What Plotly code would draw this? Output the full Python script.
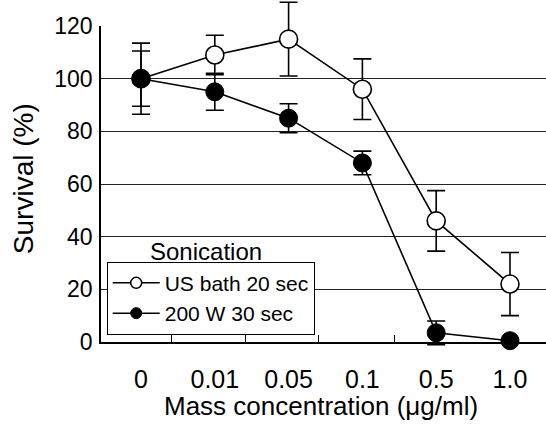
import plotly.graph_objects as go

categories = ["0", "0.01", "0.05", "0.1", "0.5", "1.0"]
x_pos = [0, 1, 2, 3, 4, 5]

us_bath = [100, 109, 115, 96, 46, 22]
us_bath_err = [13.5, 7.5, 14, 11.5, 11.5, 12]

w200 = [100, 95, 85, 68, 3.5, 0.5]
w200_err = [10.5, 7, 5.5, 4.5, 4.5, 0]

y_ticks = [0, 20, 40, 60, 80, 100, 120]

FONT = "Liberation Sans, Arial, sans-serif"
BLACK = "black"

# ---- geometry (pixels) ----
W, H = 546, 436
L = 101
Y_TOP_PX = 26      # pixel row of the 120 line
Y_ZERO_PX = 342    # pixel row of the 0 line
Y_MIN, Y_MAX = 0, 120
px_per_unit = (Y_ZERO_PX - Y_TOP_PX) / (Y_MAX - Y_MIN)
dom_lo = (H - Y_ZERO_PX) / H
dom_hi = (H - Y_TOP_PX) / H
# full-height data axis sharing the same scale, so error bars are not clipped
y2_range = [Y_MIN - (H - Y_ZERO_PX) / px_per_unit, Y_MAX + Y_TOP_PX / px_per_unit]

def py(pix):
    return (H - pix) / H

fig = go.Figure()
# legend entries (smaller markers as in the original key); they live on the framed axes
fig.add_trace(go.Scatter(
    x=[None], y=[None], name="US bath 20 sec", mode="lines+markers", xaxis="x", yaxis="y",
    line=dict(color=BLACK, width=1.5),
    marker=dict(symbol="circle", size=11, color="white", line=dict(color=BLACK, width=1.5)),
))
fig.add_trace(go.Scatter(
    x=[None], y=[None], name="200 W 30 sec", mode="lines+markers", xaxis="x", yaxis="y",
    line=dict(color=BLACK, width=1.5),
    marker=dict(symbol="circle", size=11, color=BLACK, line=dict(color=BLACK, width=1)),
))
# data traces
fig.add_trace(go.Scatter(
    x=x_pos, y=us_bath, name="US bath 20 sec", mode="lines+markers", showlegend=False,
    xaxis="x", yaxis="y2", cliponaxis=False,
    line=dict(color=BLACK, width=1.6),
    marker=dict(symbol="circle", size=18, color="white", line=dict(color=BLACK, width=1.6)),
    error_y=dict(type="data", array=us_bath_err, visible=True, color=BLACK, thickness=1.6, width=9),
))
fig.add_trace(go.Scatter(
    x=x_pos, y=w200, name="200 W 30 sec", mode="lines+markers", showlegend=False,
    xaxis="x", yaxis="y2", cliponaxis=False,
    line=dict(color=BLACK, width=1.6),
    marker=dict(symbol="circle", size=18, color=BLACK, line=dict(color=BLACK, width=1)),
    error_y=dict(type="data", array=w200_err, visible=True, color=BLACK, thickness=1.6, width=9),
))

fig.update_layout(
    width=W, height=H,
    margin=dict(l=L, r=0, t=0, b=0, autoexpand=False),
    paper_bgcolor="white", plot_bgcolor="rgba(0,0,0,0)",
    font=dict(family=FONT, color=BLACK),
    showlegend=True,
    legend=dict(
        x=0.0128, y=py(261.7), xanchor="left", yanchor="top",
        bgcolor="white", bordercolor=BLACK, borderwidth=1,
        font=dict(size=21, family=FONT, color=BLACK),
        tracegroupgap=0, itemwidth=47,
    ),
    xaxis=dict(
        anchor="y", automargin=False,
        range=[-0.542, 5.488],
        tickmode="array", tickvals=x_pos, ticktext=categories,
        ticks="", showgrid=False, zeroline=False,
        showline=True, linecolor=BLACK, linewidth=1.6,
        tickfont=dict(size=25, family=FONT, color=BLACK),
        ticklabelstandoff=14,
        minor=dict(tickvals=[0.41, 1.41, 2.40, 3.43], ticks="inside", ticklen=7,
                   tickcolor=BLACK, tickwidth=1, showgrid=False),
    ),
    yaxis=dict(
        domain=[dom_lo, dom_hi],
        anchor="x", automargin=False,
        range=[Y_MIN, Y_MAX],
        tickmode="array", tickvals=y_ticks,
        ticks="", showgrid=True, gridcolor="#222", gridwidth=1,
        zeroline=False, showline=True, linecolor=BLACK, linewidth=1.6,
        tickfont=dict(size=23, family=FONT, color=BLACK),
        ticklabelstandoff=2,
    ),
    yaxis2=dict(
        domain=[0, 1], anchor="x", range=y2_range, visible=False, automargin=False,
        showgrid=False, zeroline=False,
    ),
    annotations=[
        dict(text="Sonication", xref="paper", yref="paper", x=0.237, y=py(251.7),
             xanchor="center", yanchor="middle", showarrow=False,
             font=dict(size=24, family=FONT, color=BLACK)),
        dict(text="Mass concentration (\u03bcg/ml)", xref="paper", yref="paper", x=0.494, y=py(406),
             xanchor="center", yanchor="middle", showarrow=False,
             font=dict(size=26, family=FONT, color=BLACK)),
        dict(text="Survival (%)", xref="paper", yref="paper", x=-0.175, y=py(179),
             xanchor="center", yanchor="middle", showarrow=False, textangle=-90,
             font=dict(size=28, family=FONT, color=BLACK)),
    ],
)

fig.write_html("out.html")
